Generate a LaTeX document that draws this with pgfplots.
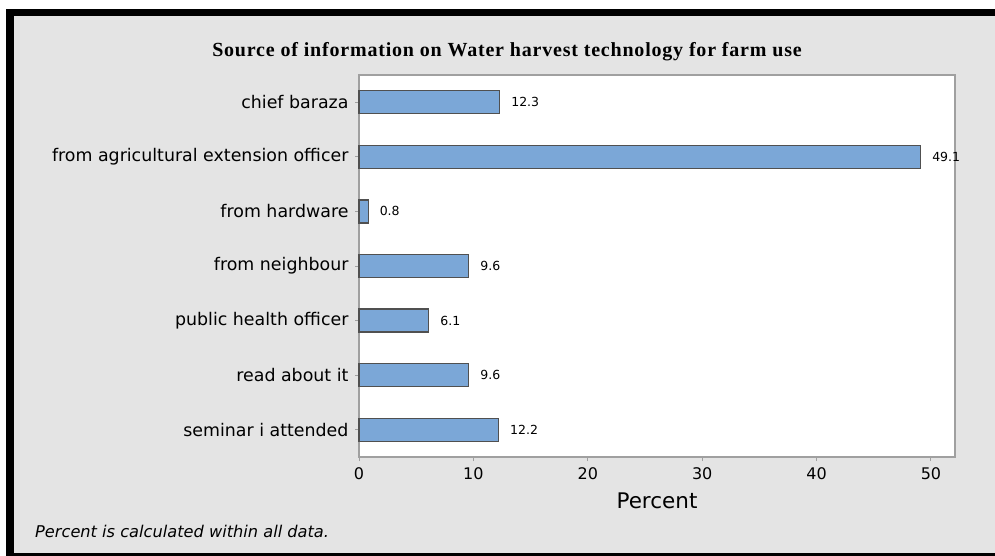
\documentclass[border=0pt]{standalone}
\usepackage{fontspec}
\setmainfont{DejaVu Sans}
\newfontfamily\titlefont[LetterSpace=4]{Liberation Serif}
\usepackage{pgfplots}
\pgfplotsset{compat=1.18}
\definecolor{bgray}{RGB}{228,228,228}
\definecolor{barblue}{RGB}{123,167,215}
\definecolor{baredge}{RGB}{80,80,80}
\definecolor{axgray}{RGB}{160,160,160}
\begin{document}
\begin{tikzpicture}[x=1pt,y=1pt]
\fill[white] (0,0) rectangle (995,556);
\fill[black] (6,0) rectangle (995,547);
\fill[bgray] (14,3) rectangle (995,540);
\node[font=\titlefont\bfseries\fontsize{20}{24}\selectfont] at (507,504) {Source of information on Water harvest technology for farm use};
\node[anchor=base west, inner sep=0pt, font=\itshape\fontsize{16.2}{19}\selectfont] at (35,18) {Percent is calculated within all data.};
\begin{axis}[
  at={(359pt,99pt)}, anchor=south west,
  scale only axis, width=596pt, height=382pt,
  xbar, bar width=23pt,
  xmin=0, xmax=52.1, ymin=-0.5, ymax=6.5,
  y dir=reverse,
  axis background/.style={fill=white},
  axis line style={axgray, line width=1.2pt},
  every tick/.style={axgray, line width=1pt},
  tick align=outside, major tick length=4pt,
  xtick={0,10,20,30,40,50},
  ytick={0,1,2,3,4,5,6},
  yticklabels={chief baraza, from agricultural extension officer, from hardware, from neighbour, public health officer, read about it, seminar i attended},
  xtick pos=bottom, ytick pos=left,
  yticklabel style={font=\fontsize{17.4}{20}\selectfont, xshift=-3pt},
  xticklabel style={font=\fontsize{16}{19}\selectfont, yshift=-3pt},
  /pgf/number format/assume math mode=true,
  xlabel={Percent},
  xlabel style={font=\fontsize{21.5}{25}\selectfont, yshift=-6pt},
  point meta=explicit symbolic,
  nodes near coords,
  nodes near coords style={anchor=west, inner sep=0pt, xshift=11pt, font=\fontsize{12.5}{15}\selectfont, black},
  clip=false,
]
\addplot[fill=barblue, draw=baredge, line width=1.2pt] coordinates {
(12.3,0) [12.3]
(49.1,1) [49.1]
(0.8,2) [0.8]
(9.6,3) [9.6]
(6.1,4) [6.1]
(9.6,5) [9.6]
(12.2,6) [12.2]
};
\end{axis}
\end{tikzpicture}
\end{document}
